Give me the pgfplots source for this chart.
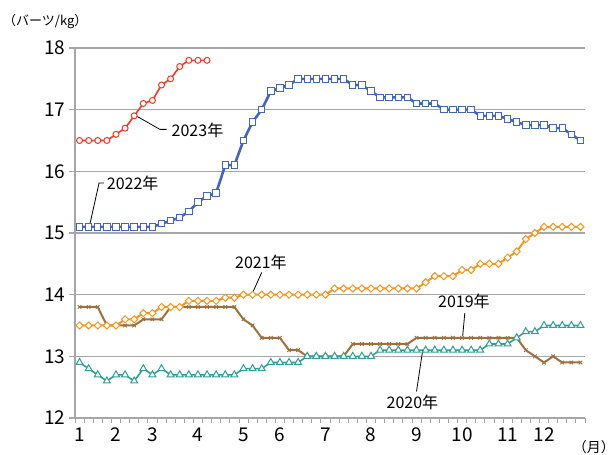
\documentclass[border=0pt]{standalone}
\usepackage{fontspec}
\setmainfont{Noto Sans CJK JP}
\usepackage{pgfplots}
\usepackage{pgfplotstable}
\pgfplotsset{compat=1.18}
\definecolor{c19}{HTML}{A0703C}
\definecolor{c20}{HTML}{2E9E96}
\definecolor{c21}{HTML}{F7941D}
\definecolor{c22}{HTML}{4466B8}
\definecolor{c23}{HTML}{EE3B26}
\definecolor{gridc}{HTML}{A6A6A6}
\pgfplotstableread{
x y19 y20 y21 y22
1 13.8 12.9 13.5 15.1
2 13.8 12.8 13.5 15.1
3 13.8 12.7 13.5 15.1
4 13.5 12.6 13.5 15.1
5 13.5 12.7 13.5 15.1
6 13.5 12.7 13.6 15.1
7 13.5 12.6 13.6 15.1
8 13.6 12.8 13.7 15.1
9 13.6 12.7 13.7 15.1
10 13.6 12.8 13.8 15.15
11 13.8 12.7 13.8 15.2
12 13.8 12.7 13.8 15.25
13 13.8 12.7 13.9 15.35
14 13.8 12.7 13.9 15.5
15 13.8 12.7 13.9 15.6
16 13.8 12.7 13.9 15.65
17 13.8 12.7 13.95 16.1
18 13.8 12.7 13.95 16.1
19 13.6 12.8 14.0 16.5
20 13.5 12.8 14.0 16.8
21 13.3 12.8 14.0 17.0
22 13.3 12.9 14.0 17.3
23 13.3 12.9 14.0 17.35
24 13.1 12.9 14.0 17.4
25 13.1 12.9 14.0 17.5
26 13.0 13.0 14.0 17.5
27 13.0 13.0 14.0 17.5
28 13.0 13.0 14.0 17.5
29 13.0 13.0 14.1 17.5
30 13.0 13.0 14.1 17.5
31 13.2 13.0 14.1 17.4
32 13.2 13.0 14.1 17.4
33 13.2 13.0 14.1 17.3
34 13.2 13.1 14.1 17.2
35 13.2 13.1 14.1 17.2
36 13.2 13.1 14.1 17.2
37 13.2 13.1 14.1 17.2
38 13.3 13.1 14.1 17.1
39 13.3 13.1 14.2 17.1
40 13.3 13.1 14.3 17.1
41 13.3 13.1 14.3 17.0
42 13.3 13.1 14.3 17.0
43 13.3 13.1 14.4 17.0
44 13.3 13.1 14.4 17.0
45 13.3 13.1 14.5 16.9
46 13.3 13.2 14.5 16.9
47 13.3 13.2 14.5 16.9
48 13.3 13.2 14.6 16.85
49 13.3 13.3 14.7 16.8
50 13.1 13.4 14.9 16.75
51 13.0 13.4 15.0 16.75
52 12.9 13.5 15.1 16.75
53 13.0 13.5 15.1 16.7
54 12.9 13.5 15.1 16.7
55 12.9 13.5 15.1 16.6
56 12.9 13.5 15.1 16.5
}\maindata
\pgfplotstableread{
x y23
1 16.5
2 16.5
3 16.5
4 16.5
5 16.6
6 16.7
7 16.9
8 17.1
9 17.15
10 17.4
11 17.5
12 17.7
13 17.8
14 17.8
15 17.8
}\data
\newcommand{\annfont}{\fontsize{16bp}{18bp}\selectfont}
\begin{document}
\begin{tikzpicture}
\useasboundingbox (-75bp,-37bp) rectangle (541bp,418bp);
\begin{axis}[
  scale only axis, width=510bp, height=370bp,
  xmin=0.5, xmax=56.5, ymin=12, ymax=18,
  axis x line*=bottom, axis y line*=left,
  axis line style={gridc, line width=1.2bp, -},
  xtick={1,5,9,14,19,23,28,33,38,43,48,52},
  xticklabels={1,2,3,4,5,6,7,8,9,10,11,12},
  minor xtick={0.5,1.5,...,56.5},
  major x tick style={draw=none},
  minor x tick style={gridc, line width=0.8bp},
  minor tick length=5bp,
  ytick={12,13,14,15,16,17,18},
  major y tick style={gridc, line width=1.2bp},
  major tick length=6bp,
  tick align=outside,
  ymajorgrids, grid style={gridc, line width=1.2bp},
  tick label style={font=\fontsize{19bp}{21bp}\selectfont},
  /pgf/number format/assume math mode=true,
  clip=false,
]
\addplot[c19, line width=2bp, mark=x, mark size=2.5bp, mark options={line width=0.9bp}] table[x=x, y=y19] {\maindata};
\addplot[c20, line width=1.6bp, mark=triangle*, mark size=4bp, mark options={line width=1bp, fill=white}] table[x=x, y=y20] {\maindata};
\addplot[c21, line width=2bp, mark=square*, mark size=2.5bp, mark options={line width=1bp, fill=white, rotate=45}] table[x=x, y=y21] {\maindata};
\addplot[c22, line width=2.6bp, mark=square*, mark size=3.2bp, mark options={line width=1bp, fill=white}] table[x=x, y=y22] {\maindata};
\addplot[c23, line width=1.6bp, mark=*, mark size=3bp, mark options={line width=1bp, fill=white}] table[x=x, y=y23] {\data};

\draw[black, line width=0.8bp] (axis cs:7.09,16.91) -- (axis cs:9.83,16.68) -- (axis cs:10.57,16.68);
\node[anchor=west, inner sep=0pt, font=\annfont] at (axis cs:11.1,16.66) {2023年};
\draw[black, line width=0.8bp] (axis cs:3.68,15.81) -- (axis cs:3.14,15.81) -- (axis cs:2.07,15.1);
\node[anchor=west, inner sep=0pt, font=\annfont] at (axis cs:3.98,15.81) {2022年};
\draw[black, line width=0.8bp] (axis cs:21.0,14.36) -- (axis cs:20.0,14.03);
\node[anchor=west, inner sep=0pt, font=\annfont] at (axis cs:18.07,14.53) {2021年};
\draw[black, line width=0.8bp] (axis cs:43.3,13.70) -- (axis cs:43.07,13.33);
\node[anchor=west, inner sep=0pt, font=\annfont] at (axis cs:40.36,13.89) {2019年};
\draw[black, line width=0.8bp] (axis cs:38.0,12.43) -- (axis cs:38.68,13.1);
\node[anchor=west, inner sep=0pt, font=\annfont] at (axis cs:34.7,12.26) {2020年};
\end{axis}
\node[anchor=west, inner sep=0pt, font=\fontsize{13bp}{15bp}\selectfont] at (-72bp,396bp) {（バーツ/kg）};
\node[anchor=east, inner sep=0pt, font=\fontsize{14bp}{16bp}\selectfont] at (540bp,-29bp) {（月）};
\end{tikzpicture}
\end{document}
